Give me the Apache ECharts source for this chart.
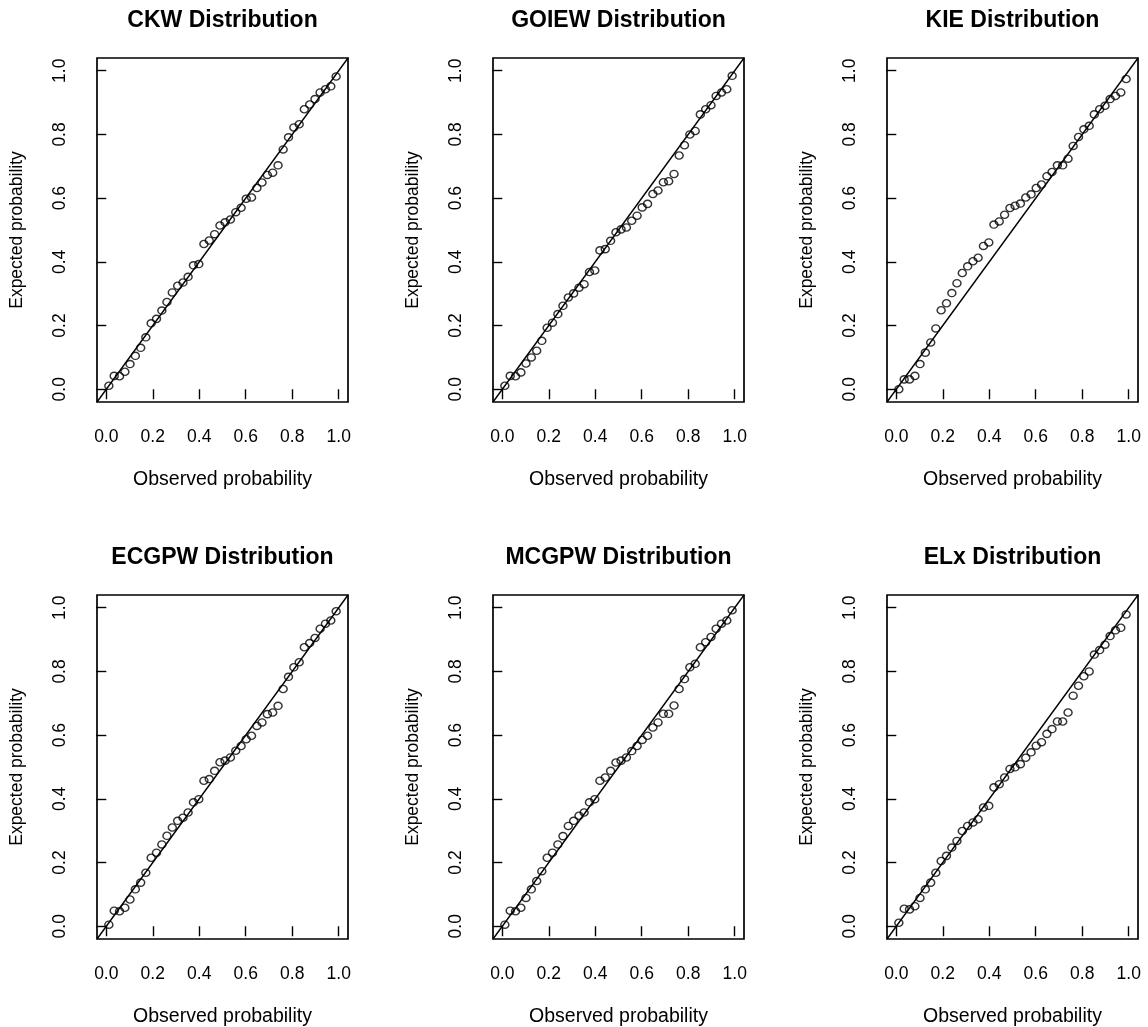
<!DOCTYPE html>
<html>
<head>
<meta charset="utf-8">
<title>P-P plots of fitted distributions</title>
<script src="https://cdn.jsdelivr.net/npm/echarts@6/dist/echarts.min.js"></script>
<style>
  html, body { margin: 0; padding: 0; background: #ffffff; }
  #chart { width: 1148px; height: 1027px; }
</style>
</head>
<body>
<div id="chart"></div>
<script>
// Fitted models, one panel each (row by row)
const distributions = ['CKW', 'GOIEW', 'KIE', 'ECGPW', 'MCGPW', 'ELx'];

// Observed (empirical) probabilities, shared by every panel
const observed = [
  0.011, 0.034, 0.057, 0.080, 0.102, 0.125, 0.148, 0.170, 0.193, 0.216, 0.239,
  0.261, 0.284, 0.307, 0.330, 0.352, 0.375, 0.398, 0.420, 0.443, 0.466, 0.489,
  0.511, 0.534, 0.557, 0.580, 0.602, 0.625, 0.648, 0.670, 0.693, 0.716, 0.739,
  0.761, 0.784, 0.807, 0.830, 0.852, 0.875, 0.898, 0.920, 0.943, 0.966, 0.989
];

// Expected probabilities under each fitted model
const expectedCKW = [
  0.011, 0.042, 0.041, 0.055, 0.079, 0.105, 0.130, 0.163, 0.207, 0.221, 0.247,
  0.274, 0.304, 0.325, 0.335, 0.353, 0.389, 0.393, 0.456, 0.467, 0.487, 0.514,
  0.524, 0.533, 0.556, 0.570, 0.598, 0.602, 0.632, 0.649, 0.673, 0.680, 0.703,
  0.753, 0.791, 0.822, 0.832, 0.879, 0.894, 0.911, 0.932, 0.942, 0.951, 0.982
];
const expectedGOIEW = [
  0.011, 0.042, 0.041, 0.053, 0.081, 0.100, 0.121, 0.152, 0.193, 0.209, 0.236,
  0.262, 0.288, 0.301, 0.319, 0.330, 0.368, 0.373, 0.436, 0.440, 0.466, 0.493,
  0.502, 0.508, 0.529, 0.545, 0.571, 0.582, 0.613, 0.624, 0.650, 0.653, 0.676,
  0.734, 0.766, 0.800, 0.811, 0.863, 0.879, 0.892, 0.921, 0.932, 0.942, 0.984
];
const expectedKIE = [
  0.000, 0.031, 0.031, 0.042, 0.079, 0.115, 0.147, 0.191, 0.248, 0.270, 0.302,
  0.333, 0.365, 0.386, 0.402, 0.413, 0.450, 0.461, 0.517, 0.527, 0.548, 0.569,
  0.576, 0.583, 0.602, 0.612, 0.632, 0.643, 0.669, 0.682, 0.703, 0.703, 0.724,
  0.764, 0.792, 0.816, 0.827, 0.863, 0.879, 0.890, 0.911, 0.921, 0.932, 0.974
];
const expectedECGPW = [
  0.005, 0.049, 0.047, 0.058, 0.084, 0.116, 0.137, 0.168, 0.215, 0.231, 0.257,
  0.284, 0.310, 0.331, 0.341, 0.357, 0.389, 0.399, 0.457, 0.462, 0.488, 0.515,
  0.520, 0.530, 0.551, 0.566, 0.587, 0.598, 0.629, 0.640, 0.666, 0.671, 0.692,
  0.745, 0.783, 0.813, 0.829, 0.876, 0.889, 0.905, 0.934, 0.950, 0.960, 0.989
];
const expectedMCGPW = [
  0.005, 0.049, 0.047, 0.058, 0.089, 0.116, 0.142, 0.173, 0.215, 0.231, 0.257,
  0.283, 0.315, 0.331, 0.347, 0.357, 0.389, 0.399, 0.457, 0.467, 0.488, 0.514,
  0.520, 0.530, 0.550, 0.566, 0.585, 0.598, 0.624, 0.640, 0.667, 0.667, 0.693,
  0.745, 0.776, 0.813, 0.824, 0.876, 0.892, 0.908, 0.934, 0.950, 0.960, 0.992
];
const expectedELx = [
  0.011, 0.055, 0.053, 0.063, 0.089, 0.116, 0.137, 0.168, 0.205, 0.221, 0.247,
  0.268, 0.299, 0.315, 0.326, 0.336, 0.373, 0.378, 0.436, 0.446, 0.467, 0.494,
  0.499, 0.509, 0.529, 0.546, 0.567, 0.578, 0.604, 0.619, 0.643, 0.643, 0.671,
  0.724, 0.755, 0.785, 0.800, 0.853, 0.867, 0.884, 0.911, 0.929, 0.937, 0.979
];
const expectedSets = [expectedCKW, expectedGOIEW, expectedKIE, expectedECGPW, expectedMCGPW, expectedELx];

// Axis ticks and limits (both axes span the same range, so y = x runs corner to corner)
const tickValues = [0, 0.2, 0.4, 0.6, 0.8, 1.0];
const tickLabels = ['0.0', '0.2', '0.4', '0.6', '0.8', '1.0'];
const axisRange = [-0.04, 1.04];
const xTitle = 'Observed probability';
const yTitle = 'Expected probability';

// Panel layout (pixels): 3 columns x 2 rows
const colLefts = [97, 493, 887];
const rowTops = [58, 595];
const panelW = 251;
const panelH = 344;

const fontFamily = '"Liberation Sans", Arial, Helvetica, sans-serif';
const ink = '#000000';

function tickLabel(v) {
  const k = tickValues.findIndex(t => Math.abs(t - v) < 1e-9);
  return k >= 0 ? tickLabels[k] : '';
}

const grids = [], xAxes = [], yAxes = [], series = [], titles = [];

distributions.forEach((name, i) => {
  const left = colLefts[i % 3];
  const top = rowTops[Math.floor(i / 3)];

  grids.push({
    left: left, top: top, width: panelW, height: panelH,
    show: true, borderColor: ink, borderWidth: 1.7, backgroundColor: 'transparent',
    containLabel: false, outerBoundsMode: 'none'
  });

  titles.push({
    text: name + ' Distribution',
    left: left + panelW / 2, top: top - 49, textAlign: 'center', padding: 0,
    textStyle: { fontFamily, fontSize: 23, fontWeight: 'bold', color: ink }
  });

  const axisCommon = {
    type: 'value', gridIndex: i, min: axisRange[0], max: axisRange[1],
    axisLine: { show: false }, splitLine: { show: false },
    axisTick: { show: true, inside: false, length: 10, customValues: tickValues,
                lineStyle: { color: ink, width: 1.4 } },
    nameLocation: 'middle'
  };

  xAxes.push(Object.assign({}, axisCommon, {
    axisLabel: { customValues: tickValues, formatter: tickLabel, margin: 26,
                 fontFamily, fontSize: 17.5, color: ink },
    name: xTitle, nameGap: 68,
    nameTextStyle: { fontFamily, fontSize: 19.5, color: ink }
  }));

  yAxes.push(Object.assign({}, axisCommon, {
    axisLabel: { customValues: tickValues, formatter: tickLabel, margin: 28, rotate: 90,
                 fontFamily, fontSize: 17.5, color: ink },
    name: yTitle, nameGap: 71,
    nameTextStyle: { fontFamily, fontSize: 17.5, color: ink }
  }));

  // reference line y = x
  series.push({
    type: 'line', xAxisIndex: i, yAxisIndex: i, silent: true,
    data: [[axisRange[0], axisRange[0]], [axisRange[1], axisRange[1]]],
    showSymbol: false, symbol: 'none',
    lineStyle: { color: ink, width: 1.4 }
  });

  // P-P points
  const expected = expectedSets[i];
  series.push({
    type: 'scatter', xAxisIndex: i, yAxisIndex: i, silent: true,
    data: observed.map((p, k) => [p, expected[k]]),
    symbol: 'circle', symbolSize: [8, 7.2],
    itemStyle: { color: 'rgba(0,0,0,0)', borderColor: ink, borderWidth: 1.4 }
  });
});

const chart = echarts.init(document.getElementById('chart'), null, { renderer: 'canvas' });
chart.setOption({
  backgroundColor: '#ffffff',
  animation: false,
  title: titles,
  grid: grids,
  xAxis: xAxes,
  yAxis: yAxes,
  series: series
});
</script>
</body>
</html>
